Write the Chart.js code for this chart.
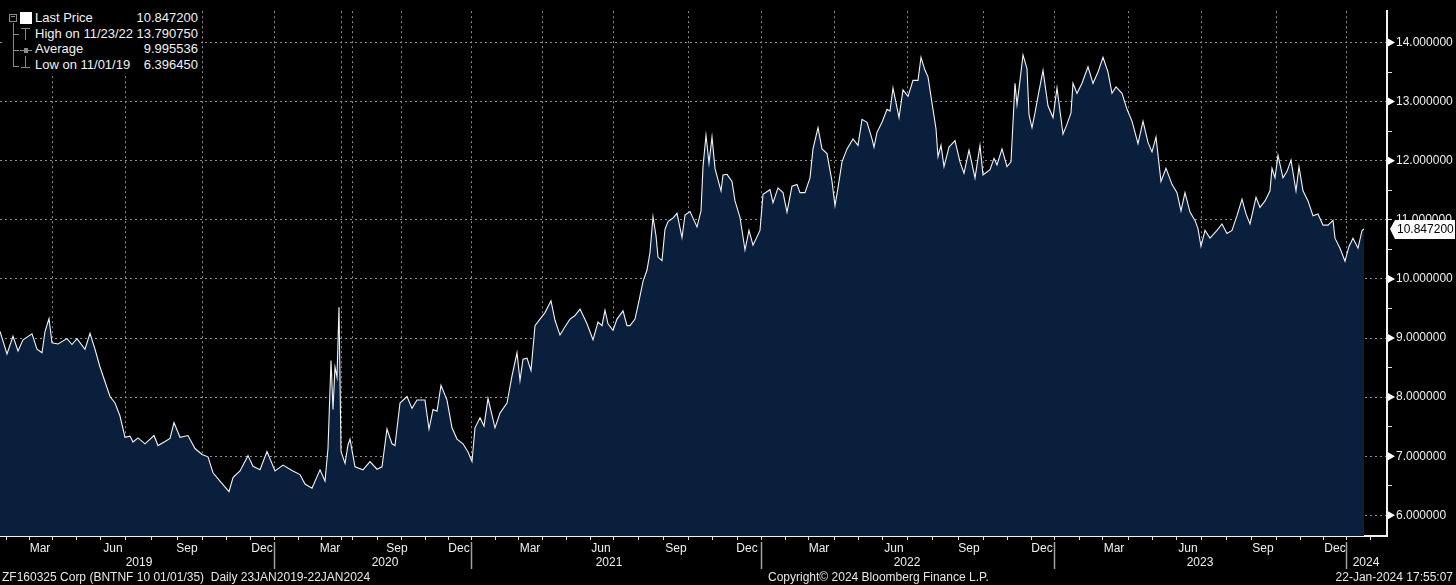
<!DOCTYPE html>
<html>
<head>
<meta charset="utf-8">
<script src="https://cdn.jsdelivr.net/npm/chart.js@4.4.1/dist/chart.umd.min.js"></script>
<style>
  html, body { margin: 0; padding: 0; background: #000; }
  #wrap { position: relative; width: 1456px; height: 585px; overflow: hidden; }
  canvas { display: block; }
  #legend { position: absolute; left: 5px; top: 5px; width: 196px; height: 68px; background: #000;
            font: 13px "Liberation Sans", Arial, sans-serif; color: #f2f2f2; }
  #legend .row { position: absolute; left: 0; width: 196px; height: 16px; line-height: 16px; }
  #legend .lab { position: absolute; left: 30px; }
  #legend .val { position: absolute; right: 3px; }
  #legend .g { position: absolute; background: #8a8a8a; }
  #legend .sq { position: absolute; left: 15px; top: 7px; width: 12px; height: 12px; background: #fff; }
  #legend .box { position: absolute; left: 4px; top: 9px; width: 6px; height: 6px; border: 1px solid #8a8a8a; }
  .foot { position: absolute; top: 570px; font: 12px "Liberation Sans", Arial, sans-serif; color: #e6e6e6; white-space: pre; }
</style>
</head>
<body>
<div id="wrap">
  <canvas id="myChart" width="1456" height="585"></canvas>
  <div id="legend"></div>
  <div class="foot" style="left:2px">ZF160325 Corp (BNTNF 10 01/01/35)  Daily 23JAN2019-22JAN2024</div>
  <div class="foot" style="left:768px">Copyright© 2024 Bloomberg Finance L.P.</div>
  <div class="foot" style="right:3px">22-Jan-2024 17:55:07</div>
</div>
<script>
// trading session number (left edge = 23 Jan 2019)
const session = [
  0, 7, 13, 18, 23, 32, 37, 42, 45, 49,
  52, 58, 67, 72, 77, 85, 90, 95, 100, 105,
  110, 115, 120, 125, 130, 133, 138, 145, 154, 158,
  165, 170, 174, 180, 188, 195, 202, 208, 213, 220,
  229, 233, 240, 248, 253, 260, 267, 275, 283, 292,
  300, 305, 312, 320, 325, 328, 331, 333, 335, 337,
  339, 341, 345, 348, 350, 355, 363, 370, 377, 382,
  387, 392, 395, 400, 407, 412, 417, 425, 429, 433,
  437, 441, 447, 452, 457, 463, 468, 472, 475, 480,
  484, 488, 495, 500, 507, 512, 517, 520, 523, 527,
  531, 535, 540, 545, 551, 555, 560, 565, 570, 575,
  580, 587, 593, 598, 602, 605, 608, 613, 617, 623,
  627, 630, 635, 639, 643, 647, 650, 653, 656, 658,
  662, 665, 668, 673, 677, 682, 685, 690, 697, 701,
  703, 706, 709, 712, 715, 721, 723, 727, 732, 735,
  740, 745, 749, 753, 760, 763, 770, 773, 778, 783,
  787, 792, 797, 800, 805, 810, 813, 818, 822, 827,
  832, 835, 838, 842, 847, 853, 858, 862, 867, 872,
  874, 877, 882, 887, 890, 893, 899, 903, 908, 913,
  918, 921, 925, 928, 933, 936, 938, 941, 944, 949,
  955, 960, 964, 969, 975, 980, 983, 990, 994, 997,
  1002, 1007, 1011, 1015, 1017, 1020, 1023, 1027, 1029, 1032,
  1035, 1038, 1043, 1048, 1053, 1057, 1063, 1067, 1071, 1073,
  1077, 1082, 1088, 1093, 1098, 1103, 1108, 1112, 1116, 1122,
  1127, 1132, 1138, 1143, 1148, 1152, 1156, 1161, 1166, 1172,
  1177, 1181, 1185, 1190, 1195, 1198, 1201, 1205, 1210, 1217,
  1222, 1227, 1232, 1237, 1242, 1246, 1250, 1256, 1260, 1265,
  1270, 1272, 1275, 1278, 1283, 1287, 1291, 1296, 1299, 1303,
  1308, 1313, 1318, 1323, 1328, 1333, 1335, 1340, 1345, 1349,
  1353, 1358, 1362, 1364
];
const price = [
  9.11, 8.73, 9.03, 8.78, 8.97, 9.07, 8.81, 8.75, 9.11, 9.33,
  8.92, 8.90, 8.99, 8.89, 8.99, 8.81, 9.08, 8.81, 8.51, 8.26,
  8.01, 7.90, 7.68, 7.32, 7.34, 7.24, 7.31, 7.21, 7.35, 7.18,
  7.25, 7.30, 7.57, 7.32, 7.35, 7.13, 7.03, 6.99, 6.72, 6.58,
  6.40, 6.64, 6.75, 7.01, 6.83, 6.77, 7.08, 6.75, 6.85, 6.76,
  6.69, 6.53, 6.46, 6.77, 6.58, 7.13, 8.62, 7.79, 8.51, 8.34,
  9.52, 7.08, 6.88, 7.19, 7.29, 6.82, 6.77, 6.91, 6.78, 6.82,
  7.46, 7.21, 7.18, 7.90, 8.01, 7.81, 7.95, 7.95, 7.46, 7.79,
  7.76, 8.20, 7.95, 7.48, 7.29, 7.21, 7.07, 6.91, 7.48, 7.65,
  7.51, 7.98, 7.48, 7.73, 7.90, 8.36, 8.75, 8.28, 8.64, 8.66,
  8.45, 9.21, 9.32, 9.43, 9.63, 9.30, 9.05, 9.19, 9.32, 9.38,
  9.49, 9.24, 8.97, 9.27, 9.21, 9.47, 9.24, 9.13, 9.32, 9.46,
  9.21, 9.21, 9.32, 9.63, 9.96, 10.15, 10.45, 11.05, 10.73, 10.37,
  10.31, 10.84, 10.97, 11.03, 11.11, 10.70, 11.08, 11.14, 10.88, 11.15,
  11.90, 12.43, 11.96, 12.40, 11.87, 11.49, 11.76, 11.77, 11.65, 11.32,
  11.04, 10.49, 10.82, 10.57, 10.82, 11.43, 11.51, 11.29, 11.54, 11.46,
  11.13, 11.57, 11.60, 11.46, 11.46, 11.71, 12.20, 12.56, 12.20, 12.12,
  11.65, 11.24, 11.54, 11.98, 12.20, 12.37, 12.26, 12.70, 12.65, 12.37,
  12.23, 12.48, 12.65, 12.87, 12.84, 13.23, 12.73, 13.20, 13.09, 13.36,
  13.36, 13.75, 13.53, 13.42, 12.87, 12.54, 12.07, 12.26, 11.90, 12.23,
  12.34, 11.98, 11.79, 12.18, 11.71, 12.26, 11.76, 11.85, 12.04, 11.93,
  12.20, 11.90, 11.98, 13.31, 12.95, 13.36, 13.79, 13.56, 12.78, 12.56,
  12.81, 13.09, 13.53, 12.93, 12.73, 13.23, 12.45, 12.62, 12.81, 13.31,
  13.14, 13.31, 13.59, 13.31, 13.50, 13.75, 13.50, 13.14, 13.25, 13.14,
  12.87, 12.67, 12.29, 12.67, 12.31, 12.15, 12.40, 11.65, 11.87, 11.60,
  11.46, 11.15, 11.46, 11.13, 10.99, 10.85, 10.55, 10.82, 10.69, 10.82,
  10.93, 10.77, 10.82, 11.07, 11.35, 11.10, 10.93, 11.38, 11.21, 11.32,
  11.49, 11.87, 11.71, 12.09, 11.71, 11.82, 12.01, 11.49, 11.90, 11.49,
  11.32, 11.07, 11.10, 10.91, 10.91, 10.99, 10.69, 10.52, 10.30, 10.55,
  10.69, 10.52, 10.82, 10.8472
];

// summary box
const summaryLabels = ["Last Price", "High on 11/23/22", "Average", "Low on 11/01/19"];
const summaryValues = ["10.847200", "13.790750", "9.995536", "6.396450"];
const lastPrice = 10.8472;

// axis ticks (in sessions)
const monthTicks = [6, 29, 52, 76, 100, 125, 151, 177, 202, 226, 250, 274,
  298, 321, 341, 352, 377, 401, 425, 448, 471,
  495, 518, 542, 566, 590, 613, 638, 663, 688, 712, 737, 761,
  785, 808, 834, 858, 882, 907, 932, 958, 983, 1007, 1031, 1054,
  1079, 1102, 1128, 1152, 1176, 1201, 1226, 1251, 1276, 1300, 1323, 1346, 1370];
const quarterTicks = [52, 125, 202, 274, 341, 352, 401, 471, 542, 613, 688, 761,
  834, 907, 983, 1054, 1128, 1201, 1276, 1346];
const monthLabels = ["Mar", "Jun", "Sep", "Dec", "Mar", "Sep", "Dec", "Mar", "Jun", "Sep",
  "Dec", "Mar", "Jun", "Sep", "Dec", "Mar", "Jun", "Sep", "Dec"];
const monthLabelAt = [40, 113, 187, 262, 330, 397, 459, 530, 601, 676,
  747, 819, 894, 969, 1042, 1114, 1188, 1263, 1335];
const yearLabels = ["2019", "2020", "2021", "2022", "2023", "2024"];
const yearLabelAt = [139, 385, 609, 907, 1200, 1366];
const yearBounds = [274, 471, 761, 1054, 1346];
const priceTicks = [6, 6.5, 7, 7.5, 8, 8.5, 9, 9.5, 10, 10.5, 11, 11.5, 12, 12.5, 13, 13.5, 14];

const tickFont = { family: "Liberation Sans", size: 12 };

// year separators, right axis markers, last price tag
const decor = {
  id: "decor",
  afterDraw(chart) {
    const { ctx, scales } = chart;
    const x = scales.x, y = scales.y;
    ctx.save();
    ctx.strokeStyle = "#a0a0a0";
    ctx.lineWidth = 1.5;
    yearBounds.forEach((b) => {
      const px = Math.round(x.getPixelForValue(b)) + 0.5;
      ctx.beginPath();
      ctx.moveTo(px, scales.xm.top + 2);
      ctx.lineTo(px, scales.xy.bottom - 1);
      ctx.stroke();
    });

    ctx.fillStyle = "#fff";
    priceTicks.filter((v) => Number.isInteger(v) && v !== 11).forEach((v) => {
      const py = y.getPixelForValue(v);
      ctx.beginPath();
      ctx.moveTo(y.left + 1, py - 4);
      ctx.lineTo(y.left + 8, py);
      ctx.lineTo(y.left + 1, py + 4);
      ctx.fill();
    });

    const py = Math.round(y.getPixelForValue(lastPrice));
    ctx.beginPath();
    ctx.moveTo(y.left + 3, py);
    ctx.lineTo(y.left + 8, py - 9);
    ctx.lineTo(chart.width - 1, py - 9);
    ctx.lineTo(chart.width - 1, py + 10);
    ctx.lineTo(y.left + 8, py + 10);
    ctx.closePath();
    ctx.fillStyle = "#fff";
    ctx.fill();
    ctx.fillStyle = "#000";
    ctx.font = "12px 'Liberation Sans'";
    ctx.textBaseline = "middle";
    ctx.fillText(summaryValues[0], y.left + 10, py + 1);
    ctx.restore();
  }
};

const myChart = new Chart(document.getElementById("myChart"), {
  type: "line",
  data: {
    datasets: [
      {
        label: "Last Price",
        data: session.map((s, i) => ({ x: s, y: price[i] })),
        borderColor: "#f4f4f4",
        borderWidth: 1.1,
        backgroundColor: "#0a1f3c",
        fill: "start",
        pointRadius: 0,
        tension: 0,
      },
    ],
  },
  options: {
    responsive: false,
    animation: false,
    devicePixelRatio: 1,
    layout: { padding: { left: 0, right: 0, top: 0, bottom: 15 } },
    plugins: { legend: { display: false }, tooltip: { enabled: false } },
    scales: {
      x: {
        type: "linear",
        min: 0,
        max: 1387,
        z: 1,
        afterBuildTicks: (s) => { s.ticks = monthTicks.map((v) => ({ value: v })); },
        ticks: { display: false },
        grid: {
          color: (c) => (quarterTicks.includes(c.tick && c.tick.value) ? "#8c8c8c" : "rgba(0,0,0,0)"),
          tickColor: "#e0e0e0",
          tickLength: 4,
          tickBorderDash: [],
        },
        border: { color: "#f0f0f0", width: 2, dash: [2, 3] },
        afterFit: (s) => { s.height = 4; },
      },
      xm: {
        type: "linear",
        position: "bottom",
        min: 0,
        max: 1387,
        afterBuildTicks: (s) => { s.ticks = monthLabelAt.map((v) => ({ value: v })); },
        ticks: { autoSkip: false, maxRotation: 0, padding: 1, color: "#f0f0f0", font: tickFont,
                 callback: (v, i) => monthLabels[i] },
        grid: { display: false, drawTicks: false },
        border: { display: false },
        afterFit: (s) => { s.height = 15; },
      },
      xy: {
        type: "linear",
        position: "bottom",
        min: 0,
        max: 1387,
        afterBuildTicks: (s) => { s.ticks = yearLabelAt.map((v) => ({ value: v })); },
        ticks: { autoSkip: false, maxRotation: 0, padding: 0, color: "#f0f0f0", font: tickFont,
                 callback: (v, i) => yearLabels[i] },
        grid: { display: false, drawTicks: false },
        border: { display: false },
        afterFit: (s) => { s.height = 15; },
      },
      y: {
        position: "right",
        min: 5.65,
        max: 14.53,
        z: 1,
        afterBuildTicks: (s) => { s.ticks = priceTicks.map((v) => ({ value: v })); },
        ticks: { padding: 4, color: "#f0f0f0", font: tickFont,
                 callback: (v) => (Number.isInteger(v) ? v.toFixed(6) : "") },
        grid: {
          color: (c) => (c.tick && Number.isInteger(c.tick.value) ? "#8c8c8c" : "rgba(0,0,0,0)"),
          tickColor: "#e0e0e0",
          tickLength: 5,
          tickBorderDash: [],
        },
        border: { color: "#f0f0f0", width: 2, dash: [2, 3] },
        afterFit: (s) => { s.width = 69; },
      },
    },
  },
  plugins: [decor],
});

// summary box text
const legend = document.getElementById("legend");
let html = '<div class="box"></div><div class="g" style="left:6px;top:11px;width:4px;height:1px"></div>' +
  '<div class="sq"></div>' +
  '<div class="g" style="left:8px;top:18px;width:1px;height:44px"></div>';
[29, 45, 61].forEach((t) => {
  html += '<div class="g" style="left:8px;top:' + t + 'px;width:6px;height:1px"></div>';
});
// high / average / low glyphs
html += '<div class="g" style="left:16px;top:23px;width:9px;height:1px"></div>' +
  '<div class="g" style="left:20px;top:23px;width:1px;height:12px"></div>' +
  '<div class="g" style="left:15px;top:45px;width:12px;height:1px"></div>' +
  '<div class="g" style="left:19px;top:43px;width:4px;height:5px"></div>' +
  '<div class="g" style="left:20px;top:51px;width:1px;height:12px"></div>' +
  '<div class="g" style="left:16px;top:62px;width:9px;height:1px"></div>';
summaryLabels.forEach((lab, i) => {
  html += '<div class="row" style="top:' + (5 + i * 15.5) + 'px"><span class="lab">' + lab +
    '</span><span class="val">' + summaryValues[i] + "</span></div>";
});
legend.innerHTML = html;
</script>
</body>
</html>
